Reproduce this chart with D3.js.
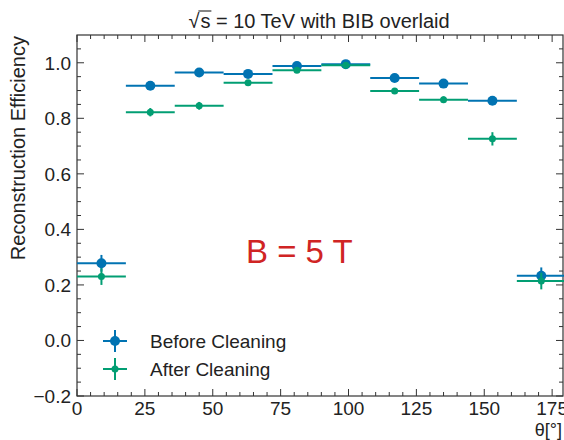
<!DOCTYPE html>
<html>
<head>
<meta charset="utf-8">
<script src="https://cdn.jsdelivr.net/npm/d3@7"></script>
<style>
  html, body { margin: 0; padding: 0; background: #fff; overflow: hidden; }
  svg { display: block; }
  text { font-family: "Liberation Sans", Arial, sans-serif; fill: #222; }
</style>
</head>
<body>
<div id="chart"></div>
<script>
// bins in theta (deg)
var binLo = [0, 18, 36, 54, 72, 90, 108, 126, 144, 162];
var binHi = [18, 36, 54, 72, 90, 108, 126, 144, 162, 180];
var binMid = [9, 27, 45, 63, 81, 99, 117, 135, 153, 171];

var effBefore = [0.278, 0.917, 0.965, 0.960, 0.988, 0.995, 0.945, 0.925, 0.863, 0.233];
var errBefore = [0.030, 0.008, 0.007, 0.007, 0.006, 0.005, 0.007, 0.008, 0.010, 0.030];
var effAfter  = [0.230, 0.822, 0.845, 0.928, 0.973, 0.991, 0.898, 0.867, 0.726, 0.214];
var errAfter  = [0.030, 0.015, 0.014, 0.010, 0.007, 0.005, 0.010, 0.012, 0.024, 0.030];

var xTicks = [0, 25, 50, 75, 100, 125, 150, 175];
var yTicks = [-0.2, 0.0, 0.2, 0.4, 0.6, 0.8, 1.0];

var W = 564, H = 440;
var margin = {left: 77, right: 1, top: 35, bottom: 44};

var svg = d3.select("#chart").append("svg")
    .attr("width", W).attr("height", H);

var x = d3.scaleLinear().domain([0, 179]).range([margin.left, W - margin.right]);
var y = d3.scaleLinear().domain([-0.2, 1.1]).range([H - margin.bottom, margin.top]);

var axisColor = "#333";

// frame
svg.append("rect")
    .attr("x", x(0)).attr("y", y(1.1))
    .attr("width", x(179) - x(0)).attr("height", y(-0.2) - y(1.1))
    .attr("fill", "none").attr("stroke", axisColor).attr("stroke-width", 1.2);

// ticks (inside, on all four sides)
var xMinor = d3.range(0, 180, 5).filter(d => d % 25 != 0);
var yMinor = d3.range(-0.2, 1.1, 0.05).map(d => +d.toFixed(2)).filter(d => Math.round(d * 100) % 20 != 0);

function addXTicks(vals, len) {
    vals.forEach(function(v) {
        svg.append("line").attr("x1", x(v)).attr("x2", x(v))
            .attr("y1", y(-0.2)).attr("y2", y(-0.2) - len)
            .attr("stroke", axisColor).attr("stroke-width", 1);
        svg.append("line").attr("x1", x(v)).attr("x2", x(v))
            .attr("y1", y(1.1)).attr("y2", y(1.1) + len)
            .attr("stroke", axisColor).attr("stroke-width", 1);
    });
}
function addYTicks(vals, len) {
    vals.forEach(function(v) {
        svg.append("line").attr("x1", x(0)).attr("x2", x(0) + len)
            .attr("y1", y(v)).attr("y2", y(v))
            .attr("stroke", axisColor).attr("stroke-width", 1);
        svg.append("line").attr("x1", x(179)).attr("x2", x(179) - len)
            .attr("y1", y(v)).attr("y2", y(v))
            .attr("stroke", axisColor).attr("stroke-width", 1);
    });
}
addXTicks(xTicks, 7);
addXTicks(xMinor, 4);
addYTicks(yTicks, 7);
addYTicks(yMinor, 4);

// tick labels
svg.append("g").selectAll("text").data(xTicks).join("text")
    .attr("x", d => x(d)).attr("y", y(-0.2) + 19)
    .attr("text-anchor", "middle").style("font-size", "19px")
    .text(d => d);

svg.append("g").selectAll("text").data(yTicks).join("text")
    .attr("x", x(0) - 6).attr("y", d => y(d) + 7)
    .attr("text-anchor", "end").style("font-size", "19px")
    .text(d => d3.format(".1f")(d).replace("-", "\u2212"));

// axis labels
svg.append("text")
    .attr("transform", "translate(25," + (margin.top + 1) + ") rotate(-90)")
    .attr("text-anchor", "end").style("font-size", "20px")
    .text("Reconstruction Efficiency");

svg.append("text")
    .attr("x", 562).attr("y", 436)
    .attr("text-anchor", "end").style("font-size", "18px")
    .text("θ[°]");

// title with sqrt(s)
var title = svg.append("text")
    .attr("x", 319).attr("y", 28)
    .attr("text-anchor", "middle").style("font-size", "20px");
title.append("tspan").text("\u221A");
title.append("tspan").attr("dx", 1).text("s");
title.append("tspan").text(" = 10 TeV with BIB overlaid");
var tn = title.node();
svg.append("line")
    .attr("x1", tn.getEndPositionOfChar(0).x - 1).attr("x2", tn.getEndPositionOfChar(1).x + 1)
    .attr("y1", 11).attr("y2", 11)
    .attr("stroke", "#222").attr("stroke-width", 1.1);

// series
var series = [
    {name: "Before Cleaning", vals: effBefore, errs: errBefore, color: "#0173b2", r: 5},
    {name: "After Cleaning", vals: effAfter, errs: errAfter, color: "#029e73", r: 3.5}
];

series.forEach(function(s) {
    var g = svg.append("g");
    g.selectAll("line.h").data(binMid).join("line")
        .attr("class", "h")
        .attr("x1", (d, i) => x(binLo[i])).attr("x2", (d, i) => x(binHi[i]))
        .attr("y1", (d, i) => y(s.vals[i])).attr("y2", (d, i) => y(s.vals[i]))
        .attr("stroke", s.color).attr("stroke-width", 2);
    g.selectAll("line.v").data(binMid).join("line")
        .attr("class", "v")
        .attr("x1", d => x(d)).attr("x2", d => x(d))
        .attr("y1", (d, i) => y(s.vals[i] - s.errs[i])).attr("y2", (d, i) => y(s.vals[i] + s.errs[i]))
        .attr("stroke", s.color).attr("stroke-width", 2);
    g.selectAll("circle").data(binMid).join("circle")
        .attr("cx", d => x(d)).attr("cy", (d, i) => y(s.vals[i]))
        .attr("r", s.r).attr("fill", s.color);
});

// legend
var leg = svg.append("g");
series.forEach(function(s, i) {
    var ly = 341 + i * 28, lx = 115;
    leg.append("line").attr("x1", lx - 12).attr("x2", lx + 12).attr("y1", ly).attr("y2", ly)
        .attr("stroke", s.color).attr("stroke-width", 2);
    leg.append("line").attr("x1", lx).attr("x2", lx).attr("y1", ly - 11).attr("y2", ly + 11)
        .attr("stroke", s.color).attr("stroke-width", 2);
    leg.append("circle").attr("cx", lx).attr("cy", ly).attr("r", s.r).attr("fill", s.color);
    leg.append("text").attr("x", 150).attr("y", ly + 7).style("font-size", "19px").text(s.name);
});

// field annotation
svg.append("text")
    .attr("x", 246).attr("y", 263)
    .style("font-size", "33px").style("fill", "#d02424")
    .text("B = 5 T");
</script>
</body>
</html>
